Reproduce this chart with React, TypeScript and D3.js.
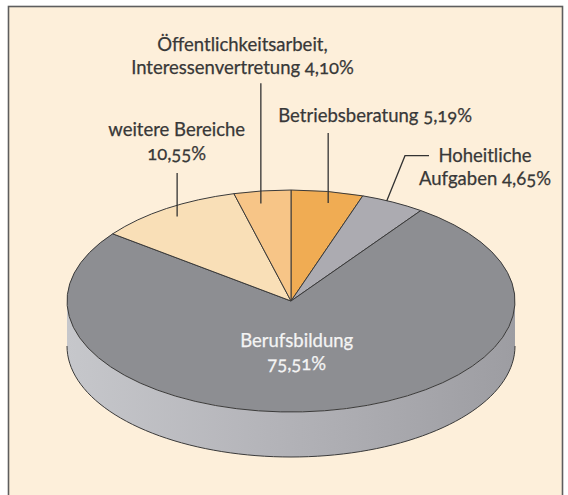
import React from "react";
import * as d3 from "d3";

const categories = [
  "Betriebsberatung",
  "Hoheitliche Aufgaben",
  "Berufsbildung",
  "weitere Bereiche",
  "Öffentlichkeitsarbeit, Interessenvertretung",
];
const values = [5.19, 4.65, 75.51, 10.55, 4.1];
const colors = ["#F0AC53", "#ACABB1", "#8D8E92", "#F9DFB7", "#F7C587"];

const de = d3.formatLocale({ decimal: ",", thousands: ".", grouping: [3], currency: ["", "€"] });
const pct = (v: number) => de.format(".2f")(v) + "%";

// label text lines (built from categories + values)
const labelLines = [
  [`${categories[0]} ${pct(values[0])}`],
  ["Hoheitliche", `Aufgaben ${pct(values[1])}`],
  [categories[2], pct(values[2])],
  [categories[3], pct(values[3])],
  ["Öffentlichkeitsarbeit,", `Interessenvertretung ${pct(values[4])}`],
];

// layout
const W = 568, H = 495;
const cx = 291, cy = 301, rx = 224, ry = 111, depth = 45;
const layout = [
  { x: 278.3, y: 121.7, anchor: "start", fill: "#383838", leaderTop: 133, t: 0.57, r: 0.898, elbow: null as null | number[] },
  { x: 485, y: 161.7, anchor: "middle", fill: "#383838", leaderTop: 0, t: 0.4, r: 0.997, elbow: [429, 155.7, 405, 155.7] },
  { x: 296.7, y: 346.7, anchor: "middle", fill: "#f4f4f4", leaderTop: -1, t: 0, r: 0, elbow: null },
  { x: 176.7, y: 136, anchor: "middle", fill: "#383838", leaderTop: 173, t: 0.5, r: 0.915, elbow: null },
  { x: 242.5, y: 50.7, anchor: "middle", fill: "#383838", leaderTop: 83.3, t: 0.41, r: 0.889, elbow: null },
];
const lineGap = 23.5;

const pt = (a: number, k = 1): [number, number] => [cx + rx * k * Math.sin(a), cy - ry * k * Math.cos(a)];

export default function App() {
  const pie = d3.pie<number>().sort(null).value((d) => d)(values);
  const arc = d3.arc<d3.PieArcDatum<number>>().innerRadius(0).outerRadius(rx);

  // front side wall (visible part of the cylinder), from right extreme to left extreme
  const N = 80;
  const topEdge = d3.range(N + 1).map((i) => pt(Math.PI / 2 + (Math.PI * i) / N));
  const botEdge = topEdge.map(([x, y]) => [x, y + depth] as [number, number]).reverse();
  const line = d3.line();
  const sideD = line([...topEdge, ...botEdge])! + "Z";
  const bottomCurve = line(botEdge)!;

  const stroke = "#3a3a3a";

  return (
    <svg width={W} height={H} style={{ position: "absolute", left: 0, top: 0, fontFeatureSettings: "'onum' 1" }} fontFamily="Lato, 'Open Sans', sans-serif">
      <defs>
        <linearGradient id="side" x1={cx - rx} x2={cx + rx} y1={0} y2={0} gradientUnits="userSpaceOnUse">
          <stop offset="0" stopColor="#C6C7CB" />
          <stop offset="0.45" stopColor="#B4B4B9" />
          <stop offset="1" stopColor="#9D9DA2" />
        </linearGradient>
      </defs>
      <rect x={0} y={0} width={W} height={H} fill="#ffffff" />
      <rect x={8.5} y={6.5} width={554} height={520} fill="#FDEFDA" stroke="#5e5e5e" strokeWidth={1.6} />

      <path d={sideD} fill="url(#side)" stroke="none" />
      <path d={bottomCurve} fill="none" stroke={stroke} strokeWidth={1} />

      <g transform={`translate(${cx},${cy}) scale(1,${ry / rx})`}>
        {pie.map((p, i) => (
          <path key={i} d={arc(p)!} fill={colors[i]} stroke={stroke} strokeWidth={1} vectorEffect="non-scaling-stroke" strokeLinejoin="round" />
        ))}
      </g>

      {pie.map((p, i) => {
        const L = layout[i];
        if (L.leaderTop < 0) return null;
        const a = p.startAngle + (p.endAngle - p.startAngle) * L.t;
        const [px, py] = pt(a, L.r);
        const pts: [number, number][] = L.elbow
          ? [[L.elbow[0], L.elbow[1]], [L.elbow[2], L.elbow[3]], [px, py]]
          : [[px, L.leaderTop], [px, py]];
        return <path key={"l" + i} d={line(pts)!} fill="none" stroke="#333" strokeWidth={1.3} />;
      })}

      {labelLines.map((lines, i) => {
        const L = layout[i];
        return (
          <text key={"t" + i} x={L.x} y={L.y} textAnchor={L.anchor as any} fontSize={18.5} fill={L.fill} stroke={L.fill} strokeWidth={0.25}>
            {lines.map((s, j) => (
              <tspan key={j} x={L.x} dy={j === 0 ? 0 : lineGap}>{s}</tspan>
            ))}
          </text>
        );
      })}
    </svg>
  );
}
